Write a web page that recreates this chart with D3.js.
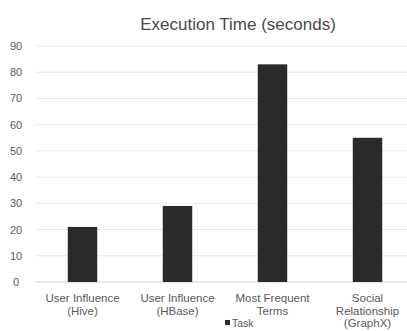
<!DOCTYPE html>
<html><head><meta charset="utf-8">
<script src="https://cdn.jsdelivr.net/npm/d3@7"></script>
<style>body{margin:0;background:#fff;}svg{display:block;font-family:"Liberation Sans",Arial,sans-serif;}</style>
</head><body>
<svg id="c" width="407" height="331"></svg>
<script>
const categories = [["User Influence","(Hive)"],["User Influence","(HBase)"],["Most Frequent","Terms"],["Social","Relationship","(GraphX)"]];
const values = [21, 29, 83, 55];
const yTicks = [0,10,20,30,40,50,60,70,80,90];
const title = "Execution Time (seconds)";
const legendLabel = "Task";

const svg = d3.select("#c");
const x = d3.scaleBand().domain(d3.range(categories.length)).range([35, 415]).paddingInner(0.69).paddingOuter(0.345);
const y = d3.scaleLinear().domain([0, 90]).range([282, 46]);

// gridlines
svg.append("g").selectAll("line").data(yTicks).join("line")
  .attr("x1", 35).attr("x2", 407)
  .attr("y1", d => y(d)).attr("y2", d => y(d))
  .attr("stroke", d => d === 0 ? "#d0d0d0" : "#e8e8e8").attr("stroke-width", 1);

// y axis labels
const yAxis = d3.axisLeft(y).tickValues(yTicks).tickSize(0).tickPadding(0);
const ya = svg.append("g").attr("transform", "translate(19,0)").call(yAxis);
ya.select(".domain").remove();
ya.selectAll("text").attr("fill", "#595959").style("font-size", "11px").attr("text-anchor", "middle").attr("dx", "-3");

// bars
svg.append("g").selectAll("rect").data(values).join("rect")
  .attr("x", (d, i) => x(i)).attr("width", x.bandwidth())
  .attr("y", d => y(d)).attr("height", d => y(0) - y(d))
  .attr("fill", "#2a2a2a");

// category labels
const xa = svg.append("g");
categories.forEach((lines, i) => {
  const t = xa.append("text").attr("x", x(i) + x.bandwidth() / 2).attr("y", 302)
    .attr("text-anchor", "middle").attr("fill", "#595959").style("font-size", "11.5px");
  lines.forEach((l, j) => t.append("tspan").attr("x", x(i) + x.bandwidth() / 2).attr("dy", j === 0 ? 0 : 12.7).text(l));
});

// title
svg.append("text").attr("x", 238).attr("y", 30).attr("text-anchor", "middle")
  .attr("fill", "#4a4a4a").style("font-size", "17px").text(title);

// legend
svg.append("rect").attr("x", 225).attr("y", 320).attr("width", 5).attr("height", 5).attr("fill", "#2a2a2a");
svg.append("text").attr("x", 232).attr("y", 327).attr("fill", "#595959").style("font-size", "10.5px").text(legendLabel);
</script>
</body></html>
